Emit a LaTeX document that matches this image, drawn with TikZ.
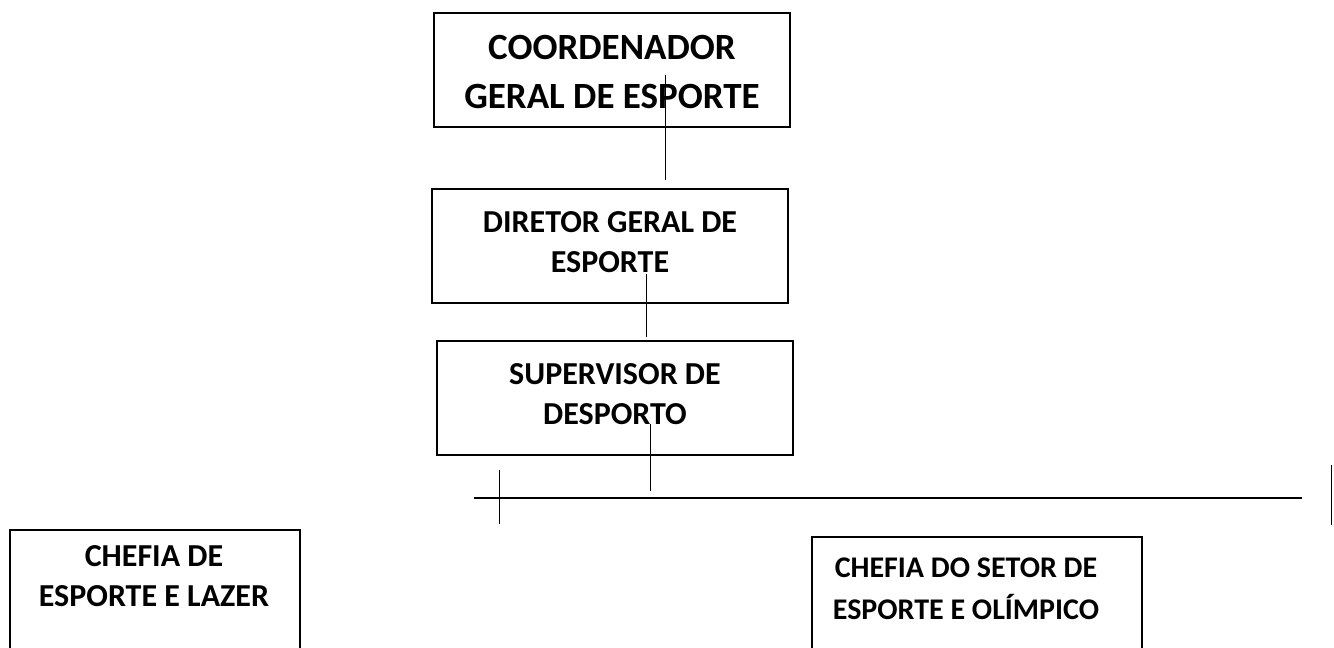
\documentclass[tikz,border=0pt]{standalone}
\usepackage{fontspec}
\setmainfont{Carlito}
\usetikzlibrary{math}

\begin{document}
\begin{tikzpicture}[x=1pt,y=-1pt,
	box/.style={draw,line width=1.6pt,inner sep=0pt},
	lbl/.style={font=\bfseries\fontsize{32}{40}\selectfont,align=center},
	big/.style={font=\bfseries\fontsize{37}{49}\selectfont,align=center},
	wire/.style={line width=0.9pt}]
\useasboundingbox (0,0) rectangle (1334,648);
\clip (0,0) rectangle (1334,648);
\tikzmath{
	\w = 356;\h = 114;
	{\node[box,minimum width=\w,minimum height=\h] (coord) at (612,70) {};};
	{\node[box,minimum width=\w,minimum height=\h] (dir) at (610,246) {};};
	{\node[box,minimum width=\w,minimum height=\h] (sup) at (615,398) {};};
	{\node[box,minimum width=290,minimum height=130] (lazer) at (155,595) {};};
	{\node[box,minimum width=330,minimum height=123] (olimp) at (977,598.5) {};};
	%
	{\node[big] (tcoord) at (612,72) {COORDENADOR\\GERAL DE ESPORTE};};
	{\node[lbl] (tdir) at (610,242) {DIRETOR GERAL DE\\ESPORTE};};
	{\node[lbl] (tsup) at (615,394) {SUPERVISOR DE\\DESPORTO};};
	{\node[lbl] (tlazer) at (154,576) {CHEFIA DE\\ESPORTE E LAZER};};
	{\node[lbl,font=\bfseries\fontsize{30}{42}\selectfont] (tolimp) at (966,589) {CHEFIA DO SETOR DE\\ESPORTE E OLÍMPICO};};
	%
	{\coordinate (a1) at (665,75);};
	{\coordinate (a2) at (665,180);};
	{\coordinate (b1) at (646,274);};
	{\coordinate (b2) at (646,337);};
	{\coordinate (c1) at (650,424);};
	{\coordinate (c2) at (650,491);};
	{\coordinate (h1) at (474,498);};
	{\coordinate (h2) at (1302,498);};
	{\coordinate (l1) at (499,470);};
	{\coordinate (l2) at (499,524);};
	{\coordinate (r1) at (1331,465);};
	{\coordinate (r2) at (1331,525);};
	%
	{\draw[wire] (a1) -- (a2);};
	{\draw[wire] (b1) -- (b2);};
	{\draw[wire] (c1) -- (c2);};
	{\draw[wire,line width=1.3pt] (h1) -- (h2);};
	{\draw[wire] (l1) -- (l2);};
	{\draw[wire] (r1) -- (r2);};
};
\end{tikzpicture}
\end{document}
